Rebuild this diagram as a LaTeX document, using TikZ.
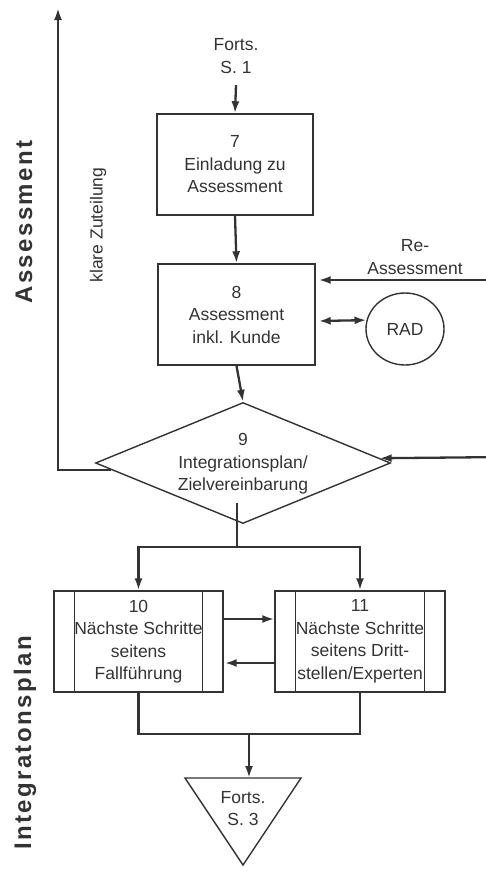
\documentclass[tikz,border=0pt]{standalone}
\usepackage{fontspec}
\setmainfont{Liberation Sans}
\usetikzlibrary{arrows.meta,shapes.geometric}
\definecolor{ink}{HTML}{333333}
\newfontfamily\headfont[LetterSpace=10]{Liberation Sans Bold}
\tikzset{
  boxtext/.style={font=\fontsize{17.5}{22.5}\selectfont, text=ink, align=center, inner sep=0pt},
  stepbox/.style={draw=ink, line width=1.4pt, minimum height=101pt, inner sep=0pt},
  conn/.style={draw=ink, line width=2.3pt},
  arr/.style={conn, -{Latex[length=12pt,width=8pt]}},
  biarr/.style={conn, {Latex[length=12pt,width=8pt]}-{Latex[length=12pt,width=8pt]}},
  lanetitle/.style={font=\fontsize{24}{28}\headfont, text=ink, rotate=90, inner sep=0pt},
}
\begin{document}
\begin{tikzpicture}[x=1pt,y=-1pt]
\useasboundingbox (0,0) rectangle (486,886);

% lane titles
\node[lanetitle] (laneA) at (24,222) {Assessment};
\node[lanetitle] (laneI) at (25,743) {Integratonsplan};

% top entry
\node[boxtext, minimum height=58pt] (f1) at (236,56) {Forts.\\S. 1};

% steps 7 and 8
\node[stepbox, minimum width=156pt] (b7) at (235,164.5) {};
\node[boxtext] at (b7) {7\\Einladung zu\\Assessment};
\node[stepbox, minimum width=157pt] (b8) at (236.5,314.5) {};
\node[boxtext] at (b8) {8\\Assessment\\inkl. Kunde};

% RAD
\node[draw=ink, line width=1.4pt, ellipse, minimum width=78pt, minimum height=72pt, inner sep=0pt] (rad) at (405,329) {};
\node[boxtext] at (rad) {RAD};

% re-assessment input
\node[boxtext] (relab) at (415,257) {Re-\\Assessment};
\coordinate (re1) at (486,280);

% decision 9
\node[draw=ink, line width=1.4pt, diamond, minimum width=295pt, minimum height=121pt, inner sep=0pt] (d9) at (243,463) {};
\node[boxtext] at (243,464) {9\\Integrationsplan/\\Zielvereinbarung};
\coordinate (r9) at (486,457.2);

% feedback loop
\coordinate (ktop) at (58,8);
\node[boxtext, rotate=90] (klare) at (98,225) {klare Zuteilung};

% steps 10 and 11 (predefined process boxes)
\node[stepbox, minimum width=169pt] (b10) at (138.5,641.5) {};
\node[boxtext] at (b10) {10\\Nächste Schritte\\seitens\\Fallführung};
\node[stepbox, minimum width=170pt] (b11) at (360,641.5) {};
\node[boxtext] at (b11) {11\\Nächste Schritte\\seitens Dritt-\\stellen/Experten};
\foreach \b in {b10,b11}{
  \draw[ink, line width=1.4pt] ([xshift=21pt]\b.north west) -- ([xshift=21pt]\b.south west);
  \draw[ink, line width=1.4pt] ([xshift=-21pt]\b.north east) -- ([xshift=-21pt]\b.south east);
}

% exit marker
\coordinate (t3) at (249,778);
\draw[ink, line width=1.4pt, line join=miter] (185,778) -- (301,778) -- (243,865) -- cycle;
\node[boxtext] (f3) at (243,808.5) {Forts.\\S. 3};

% connectors
\coordinate (split) at (237,547);
\coordinate (jn) at (249,734);
\draw[arr] (f1.south) -- (b7.north);
\draw[arr] (b7.south) -- (b8.north);
\draw[arr] (re1) -- ([xshift=3pt]b8.east |- re1);
\draw[biarr] ([xshift=3pt,yshift=-6.5pt]b8.east) -- (rad.167);
\draw[arr] (b8.south) -- (d9.north);
\draw[arr] (r9) -- (d9.2.5);
\draw[arr] (d9.183) -| (ktop);
\draw[conn] ([xshift=-6pt,yshift=-40pt]d9.center) -- (split);
\draw[arr] (split) -| (b10.north);
\draw[arr] (split) -| (b11.north);
\draw[arr] ([yshift=22.5pt]b10.east) -- ([yshift=22.5pt]b11.west);
\draw[arr] ([yshift=-21.5pt]b11.east -| b11.west) -- ([yshift=-21.5pt,xshift=1pt]b10.east);
\draw[conn] (b10.south) |- (jn) -| (b11.south);
\draw[arr] (jn) -- (t3);
\end{tikzpicture}
\end{document}
